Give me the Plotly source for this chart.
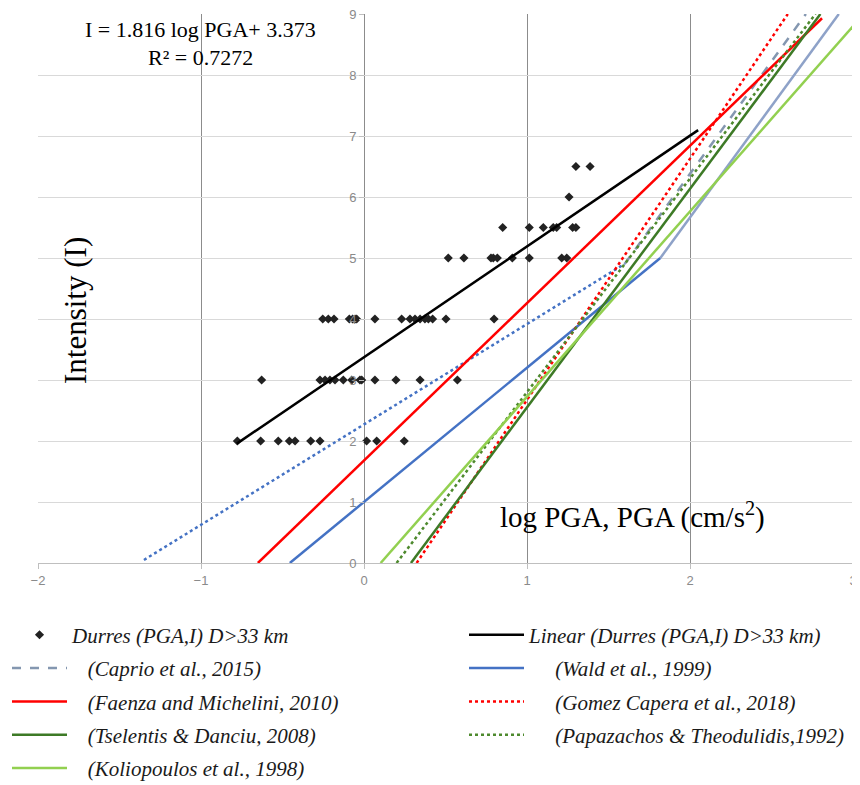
import plotly.graph_objects as go

# ---------------- data ----------------
durres_logpga = [-0.777, -0.634, -0.526, -0.458, -0.423, -0.327, -0.27, 0.016, 0.078, 0.247,
                 -0.628, -0.27, -0.239, -0.209, -0.178, -0.127, -0.075, -0.025, -0.014, 0.067, 0.196, 0.344, 0.573,
                 -0.253, -0.219, -0.184, -0.09, -0.07, -0.055, -0.045, 0.067, 0.231, 0.282, 0.313, 0.344, 0.374,
                 0.395, 0.421, 0.503, 0.798,
                 0.517, 0.613, 0.779, 0.793, 0.818, 0.910, 1.014, 1.213, 1.244,
                 0.851, 1.014, 1.100, 1.161, 1.182, 1.280, 1.300,
                 1.258,
                 1.30, 1.387]
durres_intensity = [2] * 10 + [3] * 13 + [4] * 17 + [5] * 9 + [5.5] * 7 + [6] + [6.5] * 2

linear_x = [-0.78, 2.05]
linear_i = [1.957, 7.096]
caprio_low_x = [-1.35, 1.6]
caprio_low_i = [0.05, 4.905]
caprio_high_x = [1.6, 2.711]
caprio_high_i = [4.905, 9.0]
wald_low_x = [-0.455, 1.818]
wald_low_i = [0.0, 5.0]
wald_high_x = [1.818, 2.913]
wald_high_i = [5.0, 9.0]
faenza_x = [-0.651, 2.81]
faenza_i = [0.0, 8.93]
gomez_x = [0.323, 2.60]
gomez_i = [0.0, 9.0]
tselentis_x = [0.288, 2.80]
tselentis_i = [0.0, 9.0]
papazachos_x = [0.200, 2.77]
papazachos_i = [0.0, 9.0]
koliopoulos_x = [0.102, 3.0]
koliopoulos_i = [0.0, 8.8]

x_ticks = [-2, -1, 0, 1, 2, 3]
y_ticks = [0, 1, 2, 3, 4, 5, 6, 7, 8, 9]

NB = "\u00a0"
fig = go.Figure()

def add_line(x, y, name, color, dash="solid", legend="legend", show=True, group=None):
    fig.add_trace(go.Scatter(x=x, y=y, mode="lines", name=name, showlegend=show,
                             legend=legend, legendgroup=group or name,
                             line=dict(color=color, width=2.5, dash=dash)))

fig.add_trace(go.Scatter(x=durres_logpga, y=durres_intensity, mode="markers",
                         name="Durres (PGA,I) D>33 km", legend="legend", legendgroup="g1",
                         marker=dict(symbol="diamond", size=7, color="#222222")))
add_line(linear_x, linear_i, "Linear (Durres (PGA,I) D>33 km)", "#000000", legend="legend2", group="g2")
add_line(caprio_low_x, caprio_low_i, "caprio_low", "#4472C4", dash="dot", show=False, group="g3")
add_line(caprio_high_x, caprio_high_i, NB * 3 + "(Caprio et al., 2015)", "#8497B0", dash="dash", group="g3")
add_line(wald_low_x, wald_low_i, NB * 5 + "(Wald et al., 1999)", "#4472C4", legend="legend2", group="g4")
add_line(wald_high_x, wald_high_i, "wald_high", "#8EA2C8", legend="legend2", show=False, group="g4")
add_line(faenza_x, faenza_i, NB * 3 + "(Faenza and Michelini, 2010)", "#FF0000", group="g5")
add_line(gomez_x, gomez_i, NB * 5 + "(Gomez Capera et al., 2018)", "#FF0000", dash="dot", legend="legend2", group="g6")
add_line(tselentis_x, tselentis_i, NB * 3 + "(Tselentis & Danciu, 2008)", "#3D7A26", group="g7")
add_line(papazachos_x, papazachos_i, NB * 5 + "(Papazachos & Theodulidis,1992)", "#4E8A2E", dash="dot", legend="legend2", group="g8")
add_line(koliopoulos_x, koliopoulos_i, NB * 3 + "(Koliopoulos et al., 1998)", "#92D050", group="g9")

tick_font = dict(family="Liberation Sans Narrow, Liberation Sans, Arial", size=13, color="#8a8a8a")
serif = "Liberation Serif, Times New Roman, serif"
legend_font = dict(family=serif, size=21, color="#1a1a1a", style="italic")

# page has an 8px body margin: figure is 852x777 placed at (8, 8)
# plot area in page pixels: x 38..853, y 14..563
W, H = 852, 777
PL, PR, PT, PB = 38 - 8, 853 - 8, 14 - 8, 563 - 8

def px(xp):
    return (xp - 38) / 815

def py(yp):
    return (563 - yp) / 549

fig.update_layout(
    width=W, height=H,
    margin=dict(l=PL, r=W - PR, t=PT, b=H - PB, autoexpand=False),
    plot_bgcolor="white", paper_bgcolor="white",
    xaxis=dict(range=[-2, 3], tickvals=x_ticks, showgrid=True, gridcolor="#8c8c8c", gridwidth=1,
               zeroline=False, showline=True, linecolor="#bfbfbf", linewidth=1,
               ticks="outside", ticklen=5, tickcolor="#bfbfbf", tickfont=tick_font,
               ticklabeloverflow="allow"),
    yaxis=dict(range=[0, 9], tickvals=y_ticks, showgrid=True, gridcolor="#d9d9d9", gridwidth=1,
               zeroline=False, showline=False, anchor="free", position=0.4,
               ticks="outside", ticklen=5, tickcolor="#bfbfbf", tickfont=tick_font,
               ticklabeloverflow="allow"),
    showlegend=True,
    legend=dict(orientation="v", x=px(7), y=-0.0941, xanchor="left", yanchor="top",
                traceorder="grouped", tracegroupgap=3, itemwidth=55,
                font=legend_font, bgcolor="rgba(0,0,0,0)"),
    legend2=dict(orientation="v", x=px(464), y=-0.0941, xanchor="left", yanchor="top",
                 traceorder="grouped", tracegroupgap=3, itemwidth=55,
                 font=legend_font, bgcolor="rgba(0,0,0,0)"),
    annotations=[
        dict(text="I = 1.816 log PGA+ 3.373", x=px(200), y=py(30),
             xref="paper", yref="paper", showarrow=False, xanchor="center", yanchor="middle",
             font=dict(family=serif, size=22, color="#000")),
        dict(text="R² = 0.7272", x=px(200), y=py(57),
             xref="paper", yref="paper", showarrow=False, xanchor="center", yanchor="middle",
             font=dict(family=serif, size=22, color="#000")),
        dict(text="Intensity (I)", x=px(76), y=py(311), textangle=-90,
             xref="paper", yref="paper", showarrow=False, xanchor="center", yanchor="middle",
             font=dict(family=serif, size=31, color="#000")),
        dict(text="log PGA, PGA (cm/s<sup>2</sup>)", x=px(632), y=py(515),
             xref="paper", yref="paper", showarrow=False, xanchor="center", yanchor="middle",
             font=dict(family=serif, size=29, color="#000")),
    ],
)

fig.write_html("out.html")
